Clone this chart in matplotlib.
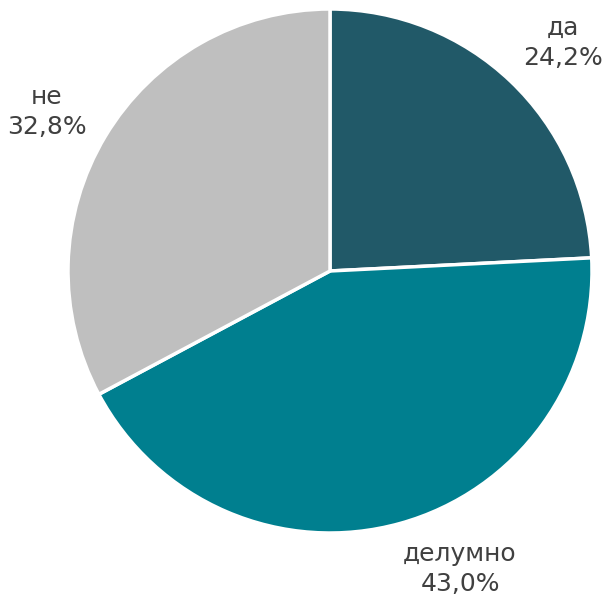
import matplotlib.pyplot as plt

labels = ['да', 'делумно', 'не']
shares = [24.2, 43.0, 32.8]
colors = ['#215968', '#007F8F', '#BFBFBF']

fig = plt.figure(figsize=(6.02, 5.99), dpi=100)
ax = fig.add_axes([0, 0, 1, 1])

texts = ax.pie(shares, colors=colors, startangle=90, counterclock=False,
               center=(330, 328), radius=262,
               labels=[f'{l}\n{v:.1f}%'.replace('.', ',') for l, v in zip(labels, shares)],
               labeldistance=1.23,
               wedgeprops=dict(edgecolor='white', linewidth=2.5),
               textprops=dict(fontsize=18, color='#404040', linespacing=1.3))[1]
for t in texts:
    t.set_ha('center')
    t.set_va('center')
# nudge labels to where the reference puts them
texts[0].set_position((563, 556))
texts[1].set_position((460, 30))
texts[2].set_position((47, 487))

ax.set_xlim(0, 602)
ax.set_ylim(0, 599)
ax.set_aspect('equal')
ax.axis('off')

plt.savefig('out.png', dpi=100)
